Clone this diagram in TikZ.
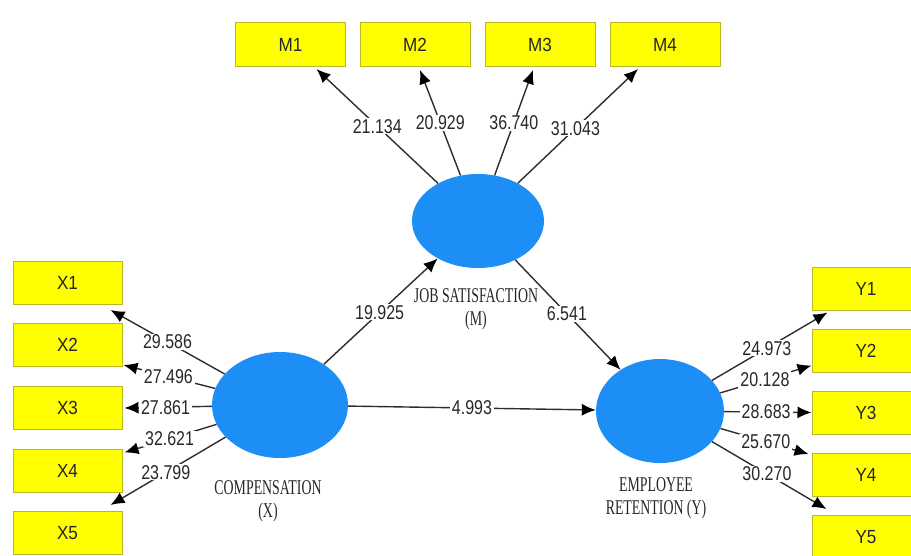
\documentclass[tikz,border=0pt]{standalone}
\usepackage{fontspec}
\setmainfont{Liberation Serif}
\newfontfamily\numfont[FakeStretch=0.8]{Liberation Sans}
\newfontfamily\boxfont[FakeStretch=0.9]{Liberation Sans}
\newfontfamily\capfont[FakeStretch=0.66]{Liberation Serif}
\usetikzlibrary{arrows.meta,calc,shapes.geometric}
\definecolor{indyellow}{RGB}{255,255,0}
\definecolor{indedge}{RGB}{185,185,40}
\definecolor{latblue}{RGB}{28,142,245}
\definecolor{wire}{RGB}{45,45,45}
\definecolor{ink}{RGB}{40,40,40}
\tikzset{
  indicator/.style={draw=indedge, line width=1pt, fill=indyellow,
    minimum width=110pt, minimum height=44pt, inner sep=0pt,
    font=\boxfont\fontsize{19}{21}\selectfont, text=black!85},
  latent/.style={ellipse, fill=latblue, draw=none, inner sep=0pt},
  arr/.style={draw=wire, line width=1.4pt,
    -{Latex[length=14pt,width=12pt,fill=black,color=black]}},
  lab/.style={fill=white, inner xsep=2pt, inner ysep=1pt, text=ink,
    font=\numfont\fontsize{20}{22}\selectfont},
  captext/.style={align=center, text=black!85,
    font=\capfont\fontsize{21}{23}\selectfont}
}
\begin{document}
\begin{tikzpicture}[x=1pt,y=-1pt]
\useasboundingbox (0,0) rectangle (911,555);
\clip (0,0) rectangle (911,555);

% latent constructs
\node[latent, minimum width=132pt, minimum height=94pt]  (ms) at (478,221) {};
\node[latent, minimum width=136pt, minimum height=106pt] (xs) at (280,405) {};
\node[latent, minimum width=128pt, minimum height=104pt] (ys) at (660,411) {};

\node[captext] (mcap) at (476,309) {JOB SATISFACTION\\(M)};
\node[captext] (xcap) at (268,501) {COMPENSATION\\(X)};
\node[captext] (ycap) at (656,498) {EMPLOYEE\\RETENTION (Y)};

% indicators of the mediator
\node[indicator] (m1) at (290.5,44.5) {M1};
\node[indicator] (m2) at (415,44.5) {M2};
\node[indicator] (m3) at (540,44.5) {M3};
\node[indicator] (m4) at (665,44.5) {M4};

% indicators of compensation
\node[indicator, minimum width=109pt, minimum height=43pt] (x1) at (67.5,283) {X1};
\node[indicator, minimum width=109pt, minimum height=43pt] (x2) at (67.5,345) {X2};
\node[indicator, minimum width=109pt, minimum height=43pt] (x3) at (67.5,408) {X3};
\node[indicator, minimum width=109pt, minimum height=43pt] (x4) at (67.5,470.5) {X4};
\node[indicator, minimum width=109pt, minimum height=43pt] (x5) at (67.5,533) {X5};

% indicators of retention
\node[indicator, minimum width=108pt, minimum height=43pt] (y1) at (866,288.5) {Y1};
\node[indicator, minimum width=108pt, minimum height=43pt] (y2) at (866,350.5) {Y2};
\node[indicator, minimum width=108pt, minimum height=43pt] (y3) at (866,412.5) {Y3};
\node[indicator, minimum width=108pt, minimum height=43pt] (y4) at (866,475) {Y4};
\node[indicator, minimum width=108pt, minimum height=43pt] (y5) at (866,537) {Y5};

% arrow ends at the indicator boxes
\coordinate (m1t) at ($(m1.south)+(26,2)$);
\coordinate (m2t) at ($(m2.south)+(5,3)$);
\coordinate (m3t) at ($(m3.south)+(-7,3)$);
\coordinate (m4t) at ($(m4.south)+(-27,2)$);
\coordinate (x1t) at ($(x1.south east)+(-12,5)$);
\coordinate (x2t) at ($(x2.south east)+(1,-2)$);
\coordinate (x3t) at ($(x3.east)+(2,0)$);
\coordinate (x4t) at ($(x4.north east)+(2,4)$);
\coordinate (x5t) at ($(x5.north east)+(-12,-6)$);
\coordinate (y1t) at ($(y1.south west)+(16,2)$);
\coordinate (y2t) at ($(y2.south west)+(0,-7)$);
\coordinate (y3t) at ($(y3.west)+(0,0)$);
\coordinate (y4t) at ($(y4.north west)+(-3,1)$);
\coordinate (y5t) at ($(y5.north west)+(15,-6)$);

% outer loadings
\draw[arr] (ms) -- node[lab, pos=.5] {21.134} (m1t);
\draw[arr] (ms) -- node[lab, pos=.5] {20.929} (m2t);
\draw[arr] (ms) -- node[lab, pos=.5] {36.740} (m3t);
\draw[arr] (ms) -- node[lab, pos=.48] {31.043} (m4t);

\draw[arr] (xs) -- node[lab, pos=.50] {29.586} (x1t);
\draw[arr] (xs) -- node[lab, pos=.51] {27.496} (x2t);
\draw[arr] (xs) -- node[lab, pos=.53] {27.861} (x3t);
\draw[arr] (xs) -- node[lab, pos=.51] {32.621} (x4t);
\draw[arr] (xs) -- node[lab, pos=.52] {23.799} (x5t);

\draw[arr] (ys) -- node[lab, pos=.475] {24.973} (y1t);
\draw[arr] (ys) -- node[lab, pos=.49] {20.128} (y2t);
\draw[arr] (ys) -- node[lab, pos=.48] {28.683} (y3t);
\draw[arr] (ys) -- node[lab, pos=.515] {25.670} (y4t);
\draw[arr] (ys) -- node[lab, pos=.48] {30.270} (y5t);

% structural paths
\draw[arr] (xs) -- node[lab, pos=.49] {19.925} (ms);
\draw[arr] (ms) -- node[lab, pos=.49] {6.541} (ys);
\draw[arr] (xs) -- node[lab, pos=.5] {4.993} (ys);
\end{tikzpicture}
\end{document}
